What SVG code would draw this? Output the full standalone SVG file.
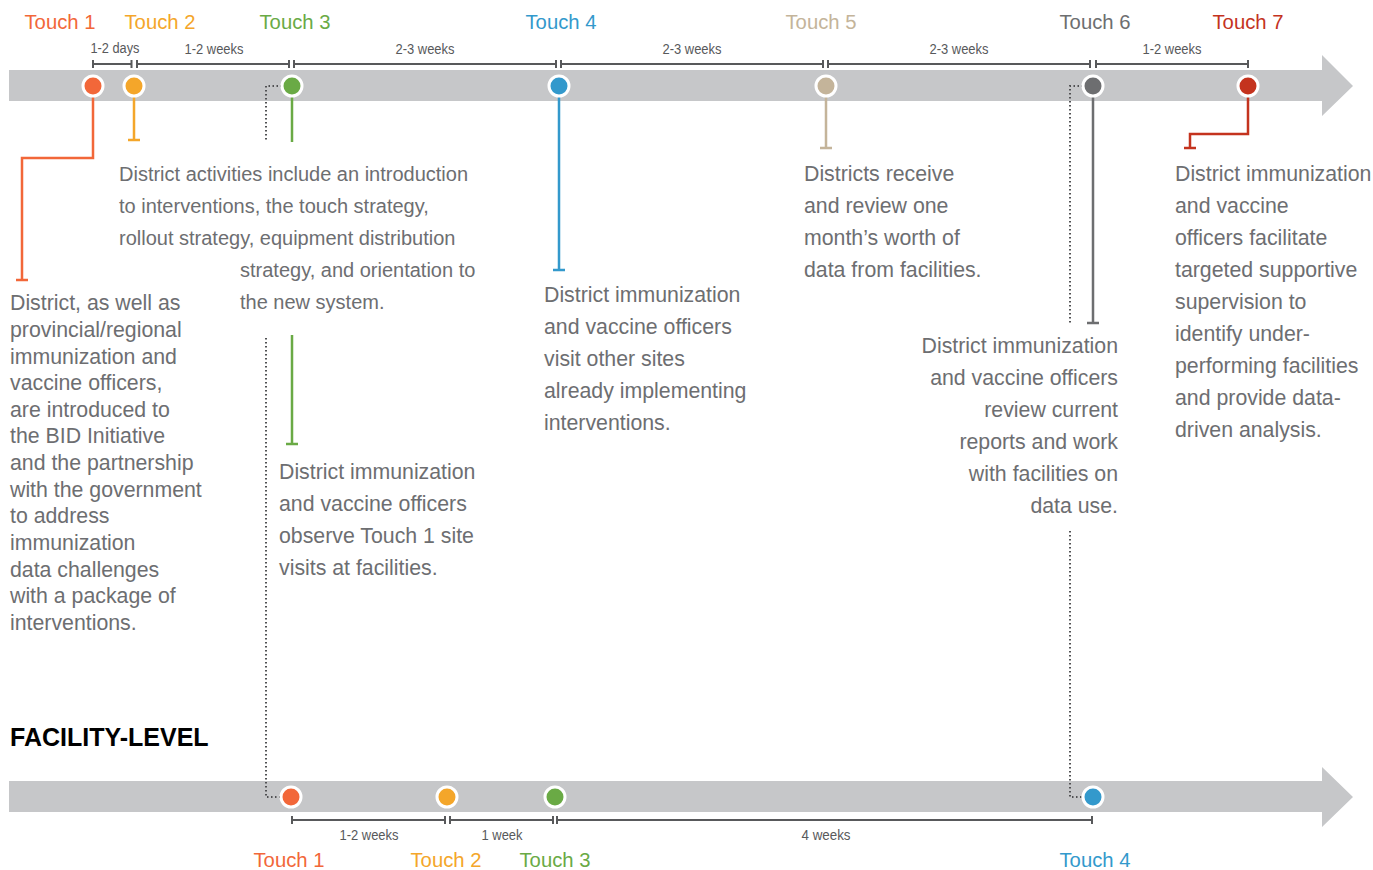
<svg xmlns="http://www.w3.org/2000/svg" width="1373" height="870" viewBox="0 0 1373 870">
<style>
.bar{fill:#c6c7c9}
.dot{stroke:#fff;stroke-width:3}
.tl{font-family:"Liberation Sans",Arial,sans-serif;font-size:20.3px;text-anchor:middle}
.iv{font-family:"Liberation Sans",Arial,sans-serif;font-size:14px;fill:#58595b;text-anchor:middle}
.br{stroke:#58595b;stroke-width:2;fill:none}
.body{font-family:"Liberation Sans",Arial,sans-serif;font-size:21.3px;fill:#6d6e71}
.b20{font-size:20px}
.ln{fill:none;stroke-width:2.5}
.dt{fill:none;stroke:#505153;stroke-width:2;stroke-dasharray:1.5 2.5}
.c1{fill:#f26739}.c2{fill:#f4a62a}.c3{fill:#6aaa45}.c4{fill:#3399cc}.c5{fill:#c4b49a}.c6{fill:#6d6e70}.c7{fill:#c4331e}
.s1{stroke:#f26739}.s2{stroke:#f4a62a}.s3{stroke:#6aaa45}.s4{stroke:#3399cc}.s5{stroke:#c4b49a}.s6{stroke:#6d6e70}.s7{stroke:#c4331e}
</style>

<g id="top-timeline">
<polygon class="bar" points="9,70 1322,70 1322,55 1353,86 1322,116 1322,101 9,101"/>
</g>
<g id="bottom-timeline">
<polygon class="bar" points="9,781 1322,781 1322,767 1353,797 1322,827 1322,812 9,812"/>
</g>

<g id="top-intervals">
<path class="br" d="M93,64H131.5M93,60V68M131.5,60V68M137,64H289M137,60V68M289,60V68M294,64H556M294,60V68M556,60V68M561,64H823M561,60V68M823,60V68M828,64H1090M828,60V68M1090,60V68M1096,64H1248M1096,60V68M1248,60V68"/>
<text class="iv" x="115" y="53" textLength="49" lengthAdjust="spacingAndGlyphs">1-2 days</text>
<text class="iv" x="214" y="54" textLength="59" lengthAdjust="spacingAndGlyphs">1-2 weeks</text>
<text class="iv" x="425" y="54" textLength="59" lengthAdjust="spacingAndGlyphs">2-3 weeks</text>
<text class="iv" x="692" y="54" textLength="59" lengthAdjust="spacingAndGlyphs">2-3 weeks</text>
<text class="iv" x="959" y="54" textLength="59" lengthAdjust="spacingAndGlyphs">2-3 weeks</text>
<text class="iv" x="1172" y="54" textLength="59" lengthAdjust="spacingAndGlyphs">1-2 weeks</text>
</g>

<g id="bottom-intervals">
<path class="br" d="M292,820H445M292,816V824M445,816V824M450,820H553M450,816V824M553,816V824M557,820H1092M557,816V824M1092,816V824"/>
<text class="iv" x="369" y="840" textLength="59" lengthAdjust="spacingAndGlyphs">1-2 weeks</text>
<text class="iv" x="502" y="840" textLength="41" lengthAdjust="spacingAndGlyphs">1 week</text>
<text class="iv" x="826" y="840" textLength="49" lengthAdjust="spacingAndGlyphs">4 weeks</text>
</g>

<g id="connectors">
<path class="ln s1" d="M93,86V158H22V280M16,280H28"/>
<path class="ln s2" d="M134,86V140M128,140H140"/>
<path class="ln s3" d="M292,86V142"/>
<path class="ln s3" d="M292,335V444M286,444H298"/>
<path class="dt" d="M290,86H266V142"/>
<path class="dt" d="M266,338V797H290"/>
<path class="ln s4" d="M559,86V270M553,270H565"/>
<path class="ln s5" d="M826,86V148M820,148H832"/>
<path class="ln s6" d="M1093,86V323M1087,323H1099"/>
<path class="dt" d="M1091,86H1070V323"/>
<path class="dt" d="M1070,531V797H1091"/>
<path class="ln s7" d="M1248,86V134H1190V148M1184,148H1196"/>
</g>

<g id="touch1">
<text class="tl c1" x="60" y="29">Touch 1</text>
<circle class="dot c1" cx="93" cy="86" r="10"/>
<text class="body" x="10"><tspan x="10" y="310">District, as well as</tspan><tspan x="10" y="337">provincial/regional</tspan><tspan x="10" y="364">immunization and</tspan><tspan x="10" y="390">vaccine officers,</tspan><tspan x="10" y="417">are introduced to</tspan><tspan x="10" y="443">the BID Initiative</tspan><tspan x="10" y="470">and the partnership</tspan><tspan x="10" y="497">with the government</tspan><tspan x="10" y="523">to address</tspan><tspan x="10" y="550">immunization</tspan><tspan x="10" y="577">data challenges</tspan><tspan x="10" y="603">with a package of</tspan><tspan x="10" y="630">interventions.</tspan></text>
</g>

<g id="touch2">
<text class="tl c2" x="160" y="29">Touch 2</text>
<circle class="dot c2" cx="134" cy="86" r="10"/>
<text class="body b20"><tspan x="119" y="181">District activities include an introduction</tspan><tspan x="119" y="213">to interventions, the touch strategy,</tspan><tspan x="119" y="245">rollout strategy, equipment distribution</tspan><tspan x="240" y="277">strategy, and orientation to</tspan><tspan x="240" y="309">the new system.</tspan></text>
</g>

<g id="touch3">
<text class="tl c3" x="295" y="29">Touch 3</text>
<circle class="dot c3" cx="292" cy="86" r="10"/>
<text class="body"><tspan x="279" y="479">District immunization</tspan><tspan x="279" y="511">and vaccine officers</tspan><tspan x="279" y="543">observe Touch 1 site</tspan><tspan x="279" y="575">visits at facilities.</tspan></text>
</g>

<g id="touch4">
<text class="tl c4" x="561" y="29">Touch 4</text>
<circle class="dot c4" cx="559" cy="86" r="10"/>
<text class="body"><tspan x="544" y="302">District immunization</tspan><tspan x="544" y="334">and vaccine officers</tspan><tspan x="544" y="366">visit other sites</tspan><tspan x="544" y="398">already implementing</tspan><tspan x="544" y="430">interventions.</tspan></text>
</g>

<g id="touch5">
<text class="tl c5" x="821" y="29">Touch 5</text>
<circle class="dot c5" cx="826" cy="86" r="10"/>
<text class="body"><tspan x="804" y="181">Districts receive</tspan><tspan x="804" y="213">and review one</tspan><tspan x="804" y="245">month’s worth of</tspan><tspan x="804" y="277">data from facilities.</tspan></text>
</g>

<g id="touch6">
<text class="tl c6" x="1095" y="29">Touch 6</text>
<circle class="dot c6" cx="1093" cy="86" r="10"/>
<text class="body" text-anchor="end"><tspan x="1118" y="353">District immunization</tspan><tspan x="1118" y="385">and vaccine officers</tspan><tspan x="1118" y="417">review current</tspan><tspan x="1118" y="449">reports and work</tspan><tspan x="1118" y="481">with facilities on</tspan><tspan x="1118" y="513">data use.</tspan></text>
</g>

<g id="touch7">
<text class="tl c7" x="1248" y="29">Touch 7</text>
<circle class="dot c7" cx="1248" cy="86" r="10"/>
<text class="body"><tspan x="1175" y="181">District immunization</tspan><tspan x="1175" y="213">and vaccine</tspan><tspan x="1175" y="245">officers facilitate</tspan><tspan x="1175" y="277">targeted supportive</tspan><tspan x="1175" y="309">supervision to</tspan><tspan x="1175" y="341">identify under-</tspan><tspan x="1175" y="373">performing facilities</tspan><tspan x="1175" y="405">and provide data-</tspan><tspan x="1175" y="437">driven analysis.</tspan></text>
</g>

<g id="facility-title">
<text x="10" y="746" style="font-family:'Liberation Sans',Arial,sans-serif;font-size:25px;font-weight:bold;fill:#000">FACILITY-LEVEL</text>
</g>

<g id="f-touch1">
<circle class="dot c1" cx="291" cy="797" r="10"/>
<text class="tl c1" x="289" y="867">Touch 1</text>
</g>
<g id="f-touch2">
<circle class="dot c2" cx="447" cy="797" r="10"/>
<text class="tl c2" x="446" y="867">Touch 2</text>
</g>
<g id="f-touch3">
<circle class="dot c3" cx="555" cy="797" r="10"/>
<text class="tl c3" x="555" y="867">Touch 3</text>
</g>
<g id="f-touch4">
<circle class="dot c4" cx="1093" cy="797" r="10"/>
<text class="tl c4" x="1095" y="867">Touch 4</text>
</g>
</svg>
